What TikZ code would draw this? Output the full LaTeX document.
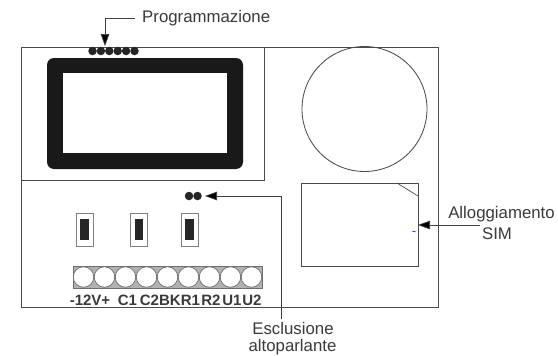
\documentclass[tikz,border=0pt]{standalone}
\usepackage{fontspec}
\setmainfont{Liberation Sans}
\usetikzlibrary{arrows.meta}
\definecolor{ink}{HTML}{4A4A4A}
\definecolor{txt}{HTML}{3A3A3A}
\tikzset{
  panel/.style={draw=ink,line width=0.85pt},
  thin line/.style={draw=ink,line width=0.7pt},
  leader/.style={draw=black!75,line width=0.7pt,-{Triangle[length=12pt,width=8.5pt,fill=black]}},
  dot/.style={circle,fill=black!85,inner sep=0pt,minimum size=8.5pt},
  jumperbox/.style={draw=ink!70,line width=0.9pt,minimum width=17pt,minimum height=33pt,inner sep=0pt,fill=white},
  jumpercore/.style={fill=black!85,minimum width=8.5pt,minimum height=21pt,inner sep=0pt},
  terminal/.style={circle,draw=ink!80,line width=0.7pt,fill=white,minimum size=20.5pt,inner sep=0pt},
  label/.style={font=\fontsize{16.8pt}{19pt}\selectfont,text=txt,inner sep=0pt},
  termlabel/.style={font=\fontsize{15pt}{17pt}\selectfont\bfseries,text=txt,inner sep=0pt}
}
\begin{document}
\begin{tikzpicture}[x=1pt,y=-1pt]
\useasboundingbox[fill=white] (0,0) rectangle (558,356);
% boards
\node[panel,minimum width=417pt,minimum height=260pt,inner sep=0pt] (board) at (230,177) {};
\node[panel,minimum width=242.5pt,minimum height=133pt,inner sep=0pt] (display) at (142.75,113.5) {};
% display frame
\fill[black!90,rounded corners=7pt] (47,58) rectangle (243,169);
\fill[white] (63,73) rectangle (227,153);
% programming header
\foreach \i/\x in {1/92.5,2/100.9,3/109.3,4/117.7,5/126.1,6/134.5}
  \node[dot] (p\i) at (\x,51) {};
% speaker
\node[panel,circle,minimum size=125pt,inner sep=0pt] (speaker) at (364.5,109) {};
% SIM
\node[panel,minimum width=117pt,minimum height=83pt,inner sep=0pt] (sim) at (359.5,224.5) {};
\draw[thin line] (397,183) -- (418,196);
\draw[blue!70!black,line width=0.5pt] (412,231) -- (416,232);
% jumpers
\foreach \n/\x in {a/84.5,b/139,c/189.5}{
  \node[jumperbox] (j\n) at (\x,229.5) {};
  \node[jumpercore] (k\n) at (\x,229.5) {};
}
% excl header
\node[dot] (e1) at (189,196) {};
\node[dot] (e2) at (197.5,196) {};
% terminal block
\node[draw=ink!80,fill=black!30,line width=0.7pt,minimum width=189pt,minimum height=22pt,inner sep=0pt] (block) at (167.5,277) {};
\foreach \i in {1,...,9}
  \node[terminal] (t\i) at ({73+10.5+(\i-1)*21},277) {};
% terminal labels
\node[termlabel] (l0) at (90,300) {-12V+};
\node[termlabel] (l1) at (127.5,300) {C1};
\node[termlabel] (l2) at (149.5,300) {C2};
\node[termlabel] (l3) at (170,300) {BK};
\node[termlabel] (l4) at (190.5,300) {R1};
\node[termlabel] (l5) at (211,300) {R2};
\node[termlabel] (l6) at (232,300) {U1};
\node[termlabel] (l7) at (252,300) {U2};
% labels
\node[label,anchor=west] (prog) at (142,18) {Programmazione};
\node[label] (all) at (501.5,214) {Alloggiamento};
\node[label] (simt) at (497,234) {SIM};
\node[label] (esc) at (293,328) {Esclusione};
\node[label] (alt) at (292.5,347) {altoparlante};
% leaders
\coordinate (ps) at (135,18);
\coordinate (pc) at (105,18);
\coordinate (pt) at (105,46);
\draw[leader] (ps) -- (pc) -- (pt);
\coordinate (ss) at (480,225);
\coordinate (st) at (418,225);
\draw[leader] (ss) -- (st);
\coordinate (es) at (281,319);
\coordinate (ec) at (281,196);
\coordinate (et) at (205,196);
\draw[leader] (es) -- (ec) -- (et);
\end{tikzpicture}
\end{document}
